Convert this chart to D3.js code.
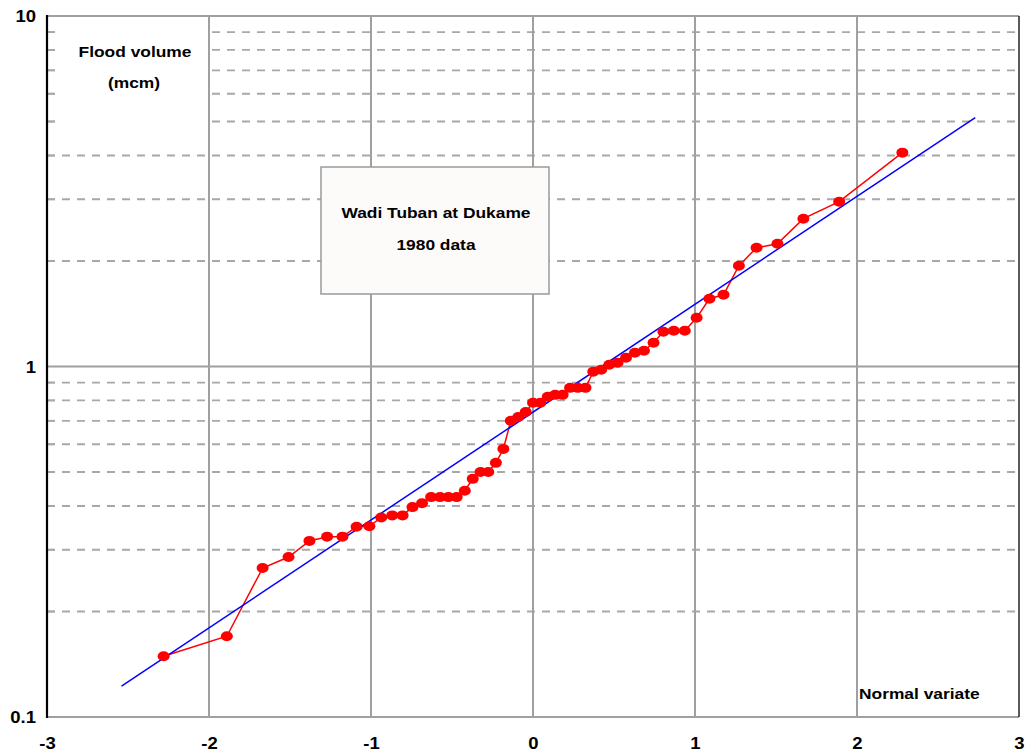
<!DOCTYPE html>
<html>
<head>
<meta charset="utf-8">
<script src="https://cdn.jsdelivr.net/npm/d3@7"></script>
<style>
  html, body { margin: 0; padding: 0; background: #fff; }
  svg { display: block; font-family: "Liberation Sans", Arial, sans-serif; font-weight: bold; }
</style>
</head>
<body>
<svg id="chart" width="1031" height="755"></svg>
<script>
// ---- data ----
const normalVariate = [
  -2.280, -1.890, -1.669, -1.509, -1.380, -1.271, -1.176, -1.089, -1.010, -0.937,
  -0.869, -0.805, -0.744, -0.685, -0.629, -0.574, -0.522, -0.471, -0.421, -0.372,
  -0.324, -0.276, -0.229, -0.183, -0.137, -0.091, -0.045, 0.000, 0.045, 0.091,
  0.137, 0.183, 0.229, 0.276, 0.324, 0.372, 0.421, 0.471, 0.522, 0.574,
  0.629, 0.685, 0.744, 0.805, 0.869, 0.937, 1.010, 1.089, 1.176, 1.271,
  1.380, 1.509, 1.669, 1.890, 2.280
];
const floodVolume = [
  0.149, 0.170, 0.266, 0.286, 0.318, 0.327, 0.327, 0.349, 0.350, 0.371,
  0.376, 0.376, 0.397, 0.407, 0.424, 0.424, 0.424, 0.424, 0.442, 0.478,
  0.500, 0.500, 0.531, 0.582, 0.700, 0.718, 0.742, 0.788, 0.788, 0.820,
  0.830, 0.830, 0.869, 0.869, 0.869, 0.966, 0.979, 1.011, 1.025, 1.059,
  1.094, 1.109, 1.169, 1.256, 1.264, 1.264, 1.377, 1.561, 1.602, 1.939,
  2.183, 2.240, 2.641, 2.953, 4.075
];
const fitVariate = [-2.54, 2.73];
const fitVolume = [0.1225, 5.13];

const xTicks = [-3, -2, -1, 0, 1, 2, 3];
const xTickLabels = ["-3", "-2", "-1", "0", "1", "2", "3"];
const yTicks = [0.1, 1, 10];
const yTickLabels = ["0.1", "1", "10"];
const yMinor = [0.2, 0.3, 0.4, 0.5, 0.6, 0.7, 0.8, 0.9, 2, 3, 4, 5, 6, 7, 8, 9];

const yTitle = ["Flood volume", "(mcm)"];
const xTitle = "Normal variate";
const boxText = ["Wadi Tuban at Dukame", "1980 data"];

// ---- layout ----
const L = 47, R = 1019, T = 16, B = 717;
const svg = d3.select("#chart");
const x = d3.scaleLinear().domain([-3, 3]).range([L, R]);
const y = d3.scaleLog().domain([0.1, 10]).range([B, T]);

const STRETCH = 1.12;
function stretch(sel) {
  sel.each(function () {
    const w = this.getComputedTextLength();
    d3.select(this).attr("textLength", w * STRETCH).attr("lengthAdjust", "spacingAndGlyphs");
  });
}

// minor dashed gridlines
svg.append("g").selectAll("line").data(yMinor).join("line")
  .attr("x1", L).attr("x2", R)
  .attr("y1", d => y(d)).attr("y2", d => y(d))
  .attr("stroke", "#a8a8a8").attr("stroke-width", 1.8).attr("stroke-dasharray", "8,7");

// major horizontal gridline at 1
svg.append("g").selectAll("line").data(yTicks.filter(d => d > 0.1 && d < 10)).join("line")
  .attr("x1", L).attr("x2", R)
  .attr("y1", d => y(d)).attr("y2", d => y(d))
  .attr("stroke", "#a0a0a0").attr("stroke-width", 2);

// vertical gridlines
svg.append("g").selectAll("line").data(xTicks.filter(d => d > -3 && d < 3)).join("line")
  .attr("x1", d => x(d)).attr("x2", d => x(d))
  .attr("y1", T).attr("y2", B)
  .attr("stroke", "#a0a0a0").attr("stroke-width", 2);

// white label backgrounds
svg.append("rect").attr("x", L + 8).attr("y", T + 2).attr("width", x(-2) - L - 9).attr("height", 113).attr("fill", "#fff");
svg.append("rect").attr("x", x(2) + 1).attr("y", 673).attr("width", R - x(2) - 2).attr("height", 35).attr("fill", "#fff");

// frame
svg.append("line").attr("x1", L).attr("x2", R).attr("y1", T).attr("y2", T).attr("stroke", "#a0a0a0").attr("stroke-width", 2);
svg.append("line").attr("x1", L).attr("x2", R).attr("y1", B).attr("y2", B).attr("stroke", "#a0a0a0").attr("stroke-width", 2);
svg.append("line").attr("x1", R).attr("x2", R).attr("y1", T).attr("y2", B).attr("stroke", "#222").attr("stroke-width", 1.5);

// left axis minor ticks
svg.append("g").selectAll("line").data(yMinor).join("line")
  .attr("x1", L).attr("x2", L + 8)
  .attr("y1", d => y(d)).attr("y2", d => y(d))
  .attr("stroke", "#a8a8a8").attr("stroke-width", 1.8);
svg.append("line").attr("x1", L).attr("x2", L).attr("y1", T - 1).attr("y2", B + 1).attr("stroke", "#000").attr("stroke-width", 2.2);

// axes labels via d3 axes
const yAxis = d3.axisLeft(y).tickValues(yTicks).tickFormat((d, i) => yTickLabels[i]).tickSize(0).tickPadding(11);
const gy = svg.append("g").attr("transform", `translate(${L},0)`).call(yAxis);
gy.select(".domain").remove();
gy.selectAll("text").attr("font-size", 16.5).attr("font-weight", "bold").attr("fill", "#000")
  .attr("font-family", "Liberation Sans, Arial, sans-serif").attr("dy", "0.34em").call(stretch);

const xAxis = d3.axisBottom(x).tickValues(xTicks).tickFormat((d, i) => xTickLabels[i]).tickSize(0).tickPadding(20);
const gx = svg.append("g").attr("transform", `translate(0,${B})`).call(xAxis);
gx.select(".domain").remove();
gx.selectAll("text").attr("font-size", 16.5).attr("font-weight", "bold").attr("fill", "#000")
  .attr("font-family", "Liberation Sans, Arial, sans-serif").call(stretch);

// titles
svg.append("text").attr("x", 135).attr("y", 57).attr("text-anchor", "middle").attr("font-size", 15.5).text(yTitle[0]).call(stretch);
svg.append("text").attr("x", 134).attr("y", 88).attr("text-anchor", "middle").attr("font-size", 15.5).text(yTitle[1]).call(stretch);
svg.append("text").attr("x", 859).attr("y", 699).attr("text-anchor", "start").attr("font-size", 15.5).text(xTitle).call(stretch);

// annotation box
svg.append("rect").attr("x", 321).attr("y", 167).attr("width", 228).attr("height", 127)
  .attr("fill", "#fcfbfa").attr("stroke", "#9a9a9a").attr("stroke-width", 1.5);
svg.append("text").attr("x", 436).attr("y", 218).attr("text-anchor", "middle").attr("font-size", 15.5).text(boxText[0]).call(stretch);
svg.append("text").attr("x", 436).attr("y", 250).attr("text-anchor", "middle").attr("font-size", 15.5).text(boxText[1]).call(stretch);

// data line
const pts = normalVariate.map((v, i) => [v, floodVolume[i]]);
svg.append("path").datum(pts)
  .attr("d", d3.line().x(d => x(d[0])).y(d => y(d[1])))
  .attr("fill", "none").attr("stroke", "#ff0000").attr("stroke-width", 1.5);

// fitted line
svg.append("path").datum(fitVariate.map((v, i) => [v, fitVolume[i]]))
  .attr("d", d3.line().x(d => x(d[0])).y(d => y(d[1])))
  .attr("fill", "none").attr("stroke", "#0000ff").attr("stroke-width", 1.5);

// markers
svg.append("g").selectAll("ellipse").data(pts).join("ellipse")
  .attr("cx", d => x(d[0])).attr("cy", d => y(d[1]))
  .attr("rx", 6).attr("ry", 5).attr("fill", "#ff0000");
</script>
</body>
</html>
